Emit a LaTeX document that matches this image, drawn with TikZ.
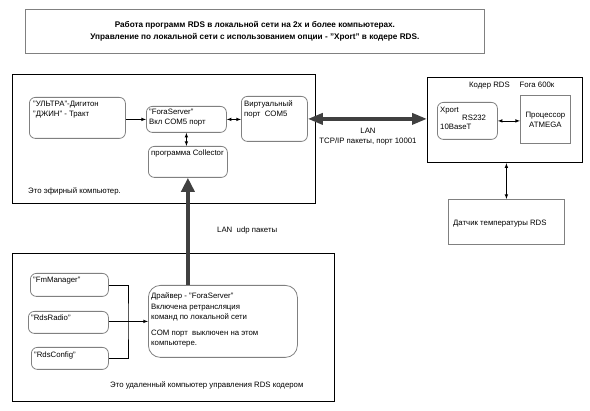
\documentclass[tikz,border=0pt]{standalone}
\usepackage{fontspec}
\setmainfont{Liberation Sans}
\usetikzlibrary{arrows.meta}
\tikzset{
  outer/.style={draw=black, line width=1.2pt, anchor=north west, inner sep=0pt},
  rbox/.style={draw=gray, line width=0.8pt, rounded corners=6pt, anchor=north west, inner sep=0pt},
  sbox/.style={draw=gray, line width=0.8pt, anchor=north west, inner sep=0pt},
  txt/.style={anchor=north west, inner sep=0pt, align=left, font=\fontsize{7.8}{10}\selectfont},
  link/.style={black, line width=0.6pt},
  fat/.style={black!75, line width=3.5pt},
}
\begin{document}
\begin{tikzpicture}[x=1pt, y=-1pt]
    \useasboundingbox (0,0) rectangle (590,411);
    % title
    \node[sbox, minimum width=459pt, minimum height=44pt, align=center,
          font=\bfseries\fontsize{8.2}{12}\selectfont] (title) at (25,9)
          {Работа программ RDS в локальной сети на 2х и более компьютерах.\\
           Управление по локальной сети с использованием опции - "Xport" в кодере RDS.};
    % ether computer
    \node[outer, minimum width=303pt, minimum height=129pt] (ether) at (12,74) {};
    \node[rbox, minimum width=96pt, minimum height=41pt] (ultra) at (29,97) {};
    \node[rbox, minimum width=80pt, minimum height=26pt] (fora) at (146,106) {};
    \node[rbox, minimum width=79pt, minimum height=31pt] (collector) at (148,146) {};
    \node[rbox, minimum width=66pt, minimum height=45pt] (virt) at (241,96) {};
    \node[txt] (ultratext) at (33,101) {"УЛЬТРА"-Дигитон\\"ДЖИН" - Тракт};
    \node[txt] (foratext) at (149,109) {"ForaServer"\\Вкл COM5 порт};
    \node[txt] (collectortext) at (151,150) {программа Collector};
    \node[txt] (virttext) at (244,101) {Виртуальный\\порт \ COM5};
    \node[txt] (etherlabel) at (28,188) {Это эфирный компьютер.};
    \draw[link, -latex] (ultra.east |- fora.west) -- (fora.west);
    \draw[link, latex-latex] (fora.east) -- (fora.east -| virt.west);
    \draw[link, latex-latex] (fora.south) -- (fora.south |- collector.north);
    % coder
    \node[outer, minimum width=155pt, minimum height=85pt] (coder) at (427,77) {};
    \node[txt] (coderlabel) at (469,82) {Кодер RDS \quad Fora 600к};
    \node[rbox, minimum width=60pt, minimum height=37pt] (xport) at (437,102) {};
    \node[txt] (xportname) at (440,107) {Xport};
    \node[txt] (xportrs) at (462,115) {RS232};
    \node[txt] (xportbase) at (440,124) {10BaseT};
    \node[sbox, minimum width=50pt, minimum height=48pt, align=center,
          font=\fontsize{7.8}{10}\selectfont] (proc) at (520,95) {Процессор\\ATMEGA};
    \draw[link, latex-latex] (xport.east) -- (xport.east -| proc.west);
    \node[sbox, minimum width=116pt, minimum height=45pt] (sensor) at (448,199) {};
    \node[txt] (sensortext) at (453,220) {Датчик температуры RDS};
    \draw[link, latex-latex] (sensor.north |- coder.south) -- (sensor.north);
    % LAN tcp
    \draw[fat, {Triangle[length=15pt,width=11pt]}-{Triangle[length=15pt,width=11pt]}]
        (virt.east) -- (virt.east -| coder.west);
    \node[txt, anchor=north, align=center] (lanlabel) at (368,128) {LAN\\TCP/IP пакеты, порт 10001};
    % remote computer
    \node[outer, minimum width=322pt, minimum height=148pt] (remote) at (12,253) {};
    \node[rbox, minimum width=78pt, minimum height=23pt] (fm) at (30,273) {};
    \node[rbox, minimum width=80pt, minimum height=22pt] (radio) at (28,311) {};
    \node[rbox, minimum width=77pt, minimum height=22pt] (config) at (31,347) {};
    \node[rbox, rounded corners=12pt, minimum width=149pt, minimum height=72pt] (driver) at (148,285) {};
    \node[txt] (fmtext) at (33,277) {"FmManager"};
    \node[txt] (radiotext) at (31,315) {"RdsRadio"};
    \node[txt] (configtext) at (34,352) {"RdsConfig"};
    \node[txt, font=\fontsize{7.8}{10.5}\selectfont] (drivertext) at (151,293)
        {Драйвер - "ForaServer"\\Включена ретрансляция\\команд по локальной сети\\[5pt]COM порт \ выключен на этом\\компьютере.};
    \node[txt] (remotelabel) at (110,382) {Это удаленный компьютер управления RDS кодером};
    \coordinate (join) at (128,321);
    \draw[link] (fm.east) -| (join) |- (config.east);
    \draw[link, -latex] (radio.east |- driver.west) -- (driver.west);
    % LAN udp
    \draw[fat, -{Triangle[length=14pt,width=13pt]}] (collector.south |- driver.north) -- (collector.south);
    \node[txt] (udplabel) at (217,227) {LAN \ udp пакеты};
\end{tikzpicture}
\end{document}
